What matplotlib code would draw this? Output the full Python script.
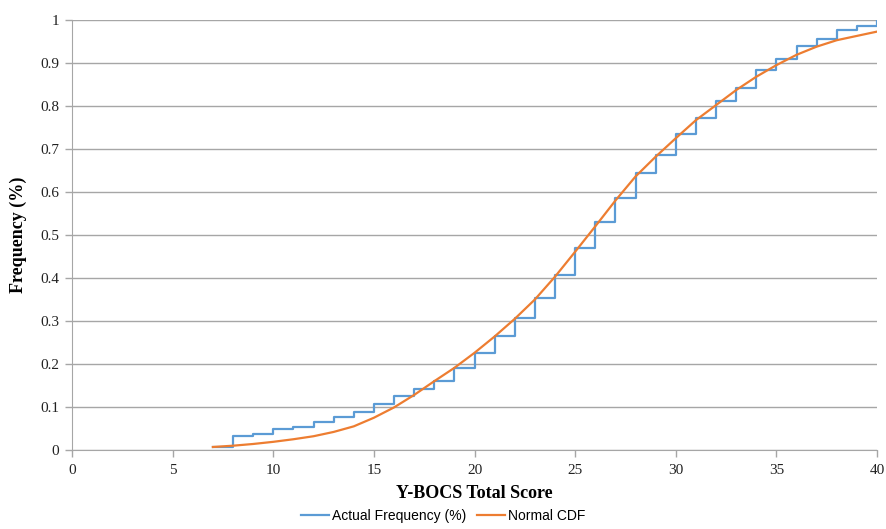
import matplotlib
matplotlib.use("Agg")
import matplotlib.pyplot as plt
from matplotlib.lines import Line2D

# Y-BOCS total score (step starts) and observed cumulative frequency
scores = list(range(7, 41))
actual_freq = [0.006, 0.033, 0.037, 0.050, 0.054, 0.065, 0.076, 0.089, 0.107, 0.126,
               0.143, 0.161, 0.191, 0.226, 0.266, 0.308, 0.353, 0.407, 0.469, 0.530,
               0.585, 0.645, 0.686, 0.736, 0.773, 0.811, 0.843, 0.884, 0.909, 0.940,
               0.955, 0.976, 0.986, 1.000]

# normal CDF, read at the same scores
normal_cdf = [0.007, 0.010, 0.014, 0.019, 0.025, 0.032, 0.042, 0.055, 0.075, 0.099,
              0.128, 0.160, 0.191, 0.226, 0.264, 0.305, 0.350, 0.403, 0.461, 0.520,
              0.580, 0.636, 0.682, 0.725, 0.767, 0.802, 0.837, 0.868, 0.895, 0.919,
              0.938, 0.953, 0.963, 0.973]

x_ticks = [0, 5, 10, 15, 20, 25, 30, 35, 40]
y_ticks = [0, 0.1, 0.2, 0.3, 0.4, 0.5, 0.6, 0.7, 0.8, 0.9, 1]
y_labels = ["0", "0.1", "0.2", "0.3", "0.4", "0.5", "0.6", "0.7", "0.8", "0.9", "1"]

blue = "#5B9BD5"
orange = "#ED7D31"
grey = "#A6A6A6"
serif = "Liberation Serif"

fig = plt.figure(figsize=(8.86, 5.29), dpi=100)
ax = fig.add_axes([72/886, 79/529, 805/886, 430/529])

ax.plot(scores, actual_freq, drawstyle="steps-post", color=blue, lw=1.6, zorder=3)
ax.plot(scores, normal_cdf, color=orange, lw=1.6, zorder=4)

ax.set_xlim(0, 40)
ax.set_ylim(0, 1)
ax.set_xticks(x_ticks)
ax.set_yticks(y_ticks)
ax.set_yticklabels(y_labels)
for lab in ax.get_xticklabels() + ax.get_yticklabels():
    lab.set_fontfamily(serif)
    lab.set_fontsize(11)
    lab.set_color("#222222")

ax.grid(axis="y", color=grey, lw=1.0, zorder=0)
for s in ["top", "right"]:
    ax.spines[s].set_visible(False)
ax.spines["left"].set_color(grey)
ax.spines["bottom"].set_color(grey)
ax.tick_params(axis="both", color=grey, length=5, width=1, direction="out")
ax.tick_params(axis="x", pad=5)
ax.tick_params(axis="y", pad=4)

ax.set_xlabel("Y-BOCS Total Score", fontfamily=serif, fontweight="bold", fontsize=13, labelpad=6)
ax.set_ylabel("Frequency (%)", fontfamily=serif, fontweight="bold", fontsize=13, labelpad=10)

handles = [Line2D([], [], color=blue, lw=1.6), Line2D([], [], color=orange, lw=1.6)]
fig.legend(handles, ["Actual Frequency (%)", "Normal CDF"], loc="lower center",
           bbox_to_anchor=(0.5, -0.012), ncol=2, frameon=False, handlelength=2.0,
           handletextpad=0.2, columnspacing=0.8, prop={"family": "Liberation Sans", "size": 10})

fig.savefig("out.png", dpi=100)
